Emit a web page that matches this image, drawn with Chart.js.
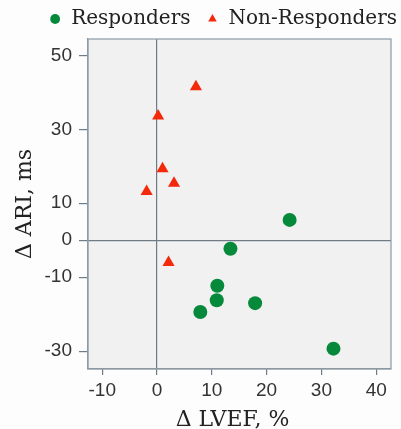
<!DOCTYPE html>
<html>
<head>
<meta charset="utf-8">
<script src="https://cdn.jsdelivr.net/npm/chart.js@4"></script>
<style>
html,body{margin:0;padding:0;background:#fdfdfe;}
#wrap{width:401px;height:429px;position:relative;}
</style>
</head>
<body>
<div id="wrap"><canvas id="c" width="401" height="429"></canvas></div>
<script>
// Data
const seriesNames = ['Responders', 'Non-Responders'];
const respondersX = [24.2, 13.4, 11.0, 10.9, 17.9, 7.9, 32.2];
const respondersY = [5.5, -2.3, -12.3, -16.2, -17.0, -19.4, -29.3];
const nonRespondersX = [7.1, 0.2, 1.0, 3.1, -1.9, 2.1];
const nonRespondersY = [41.5, 33.6, 19.3, 15.4, 13.2, -6.0];
const xTicks = [-10, 0, 10, 20, 30, 40];
const yTicks = [50, 30, 10, 0, -10, -30];
const xTitle = 'Δ LVEF, %';
const yTitle = 'Δ ARI, ms';

const toPts = (xs, ys) => xs.map((x, i) => ({x: x, y: ys[i]}));

const plotBox = {
  id: 'plotBox',
  beforeDraw(chart) {
    const a = chart.chartArea, ctx = chart.ctx;
    ctx.save();
    ctx.fillStyle = '#f1f1f2';
    ctx.fillRect(a.left, a.top, a.right - a.left, a.bottom - a.top);
    ctx.restore();
  },
  beforeDatasetsDraw(chart) {
    const a = chart.chartArea, ctx = chart.ctx;
    ctx.save();
    ctx.strokeStyle = '#8d9aa4';
    ctx.lineWidth = 1.2;
    ctx.strokeRect(a.left, a.top, a.right - a.left, a.bottom - a.top);
    ctx.restore();
  }
};

const zeroLine = (c) => (c.tick && c.tick.value === 0) ? '#6f7c86' : 'rgba(0,0,0,0)';

new Chart(document.getElementById('c'), {
  type: 'scatter',
  data: {
    datasets: [
      {
        label: seriesNames[0],
        data: toPts(respondersX, respondersY),
        pointStyle: 'circle',
        pointRadius: 7,
        backgroundColor: '#07893b',
        borderColor: '#07893b',
        borderWidth: 0
      },
      {
        label: seriesNames[1],
        data: toPts(nonRespondersX, nonRespondersY),
        pointStyle: 'triangle',
        pointRadius: 7,
        backgroundColor: '#f4290b',
        borderColor: '#f4290b',
        borderWidth: 0
      }
    ]
  },
  options: {
    responsive: false,
    animation: false,
    devicePixelRatio: 1,
    layout: {padding: {left: 0, right: -12, top: -7, bottom: 0}},
    plugins: {
      tooltip: {enabled: false},
      legend: {
        position: 'top',
        align: 'end',
        labels: {
          usePointStyle: true,
          boxWidth: 12,
          boxHeight: 7,
          padding: 16,
          color: '#222',
          font: {family: 'DejaVu Serif', size: 20}
        }
      }
    },
    scales: {
      x: {
        type: 'linear',
        min: -12.6,
        max: 42.7,
        afterBuildTicks: (s) => { s.ticks = xTicks.map(v => ({value: v})); },
        afterFit: (s) => { s.height = 60; },
        ticks: {
          color: '#333',
          font: {family: 'Liberation Sans', size: 19},
          padding: 4
        },
        grid: {
          color: zeroLine,
          lineWidth: 1.2,
          tickColor: '#6f7c86',
          tickLength: 6,
          drawTicks: true
        },
        border: {display: true, color: '#8d9aa4', width: 1.2},
        title: {
          display: true,
          text: xTitle + '\u00a0\u00a0',
          color: '#222',
          font: {family: 'DejaVu Serif', size: 22},
          padding: {top: 0, bottom: -4}
        }
      },
      y: {
        type: 'linear',
        min: -34.8,
        max: 54.4,
        afterBuildTicks: (s) => { s.ticks = yTicks.map(v => ({value: v})); },
        afterFit: (s) => { s.width = 88; },
        ticks: {
          color: '#333',
          font: {family: 'Liberation Sans', size: 19},
          padding: 7
        },
        grid: {
          color: zeroLine,
          lineWidth: 1.2,
          tickColor: '#6f7c86',
          tickLength: 9,
          drawTicks: true
        },
        border: {display: true, color: '#8d9aa4', width: 1.2},
        title: {
          display: true,
          text: yTitle,
          color: '#222',
          font: {family: 'DejaVu Serif', size: 22},
          padding: {top: 12.5, bottom: 0}
        }
      },
      yRight: {
        type: 'linear',
        position: 'right',
        display: true,
        grid: {display: false},
        border: {display: false},
        ticks: {display: false},
        afterFit: (s) => { s.width = 22; }
      }
    }
  },
  plugins: [plotBox]
});
</script>
</body>
</html>
